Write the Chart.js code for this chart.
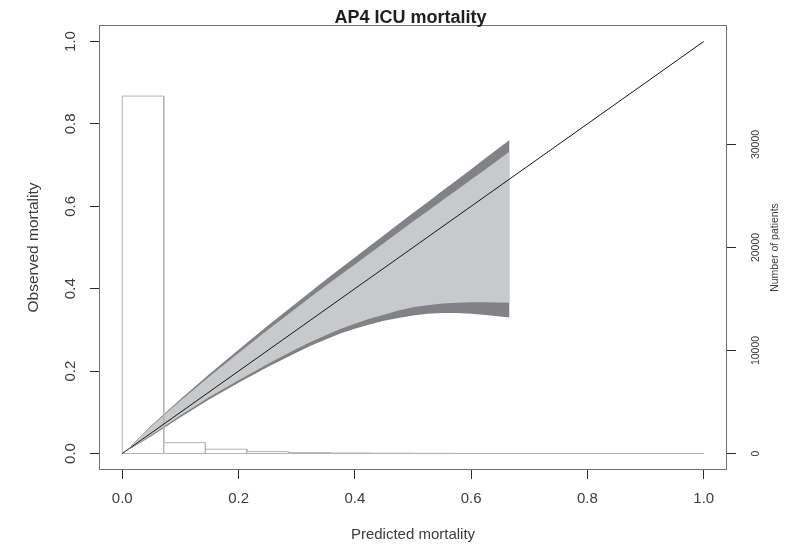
<!DOCTYPE html>
<html>
<head>
  <title>AP4 ICU mortality</title>
  <style>
    html, body { margin: 0; padding: 0; background: #fff; }
    canvas { display: block; }
  </style>
</head>
<body>
  <canvas id="calChart" width="798" height="549"></canvas>

  <script src="https://cdn.jsdelivr.net/npm/chart.js"></script>
  <script>
    const titleText = 'AP4 ICU mortality';

    // calibration belt
    const bandX      = [0.015, 0.05,  0.1,   0.15,  0.2,   0.25,  0.3,   0.325, 0.35,  0.375, 0.4,   0.425, 0.45,  0.475, 0.5,   0.525, 0.55,  0.575, 0.6,   0.625, 0.666];
    const upperOuter = [0.019, 0.068, 0.132, 0.193, 0.252, 0.310, 0.366, 0.394, 0.422, 0.449, 0.476, 0.503, 0.530, 0.557, 0.584, 0.610, 0.637, 0.663, 0.690, 0.717, 0.761];
    const upperInner = [0.018, 0.066, 0.128, 0.187, 0.244, 0.300, 0.354, 0.381, 0.407, 0.433, 0.459, 0.485, 0.511, 0.537, 0.563, 0.588, 0.614, 0.639, 0.665, 0.690, 0.733];
    const lowerInner = [0.013, 0.045, 0.092, 0.137, 0.178, 0.217, 0.254, 0.271, 0.287, 0.302, 0.315, 0.327, 0.337, 0.347, 0.355, 0.360, 0.364, 0.366, 0.367, 0.367, 0.366];
    const lowerOuter = [0.012, 0.042, 0.088, 0.132, 0.172, 0.210, 0.245, 0.262, 0.277, 0.291, 0.303, 0.313, 0.322, 0.329, 0.335, 0.339, 0.341, 0.341, 0.339, 0.336, 0.330];

    // histogram of predicted mortality (number of patients per bin)
    const binEdges  = [0, 0.0714, 0.1429, 0.2143, 0.2857, 0.3571, 0.4286, 0.5, 0.5714, 0.6429, 0.7143, 0.7857, 0.8571, 0.9286, 1.0];
    const binCounts = [34700, 1050, 420, 190, 90, 50, 30, 15, 0, 0, 0, 0, 0, 0];

    const diagX = [0, 1];
    const diagY = [0, 1];

    const xTicks = [0, 0.2, 0.4, 0.6, 0.8, 1.0];
    const yTicks = [0, 0.2, 0.4, 0.6, 0.8, 1.0];
    const patientTicks = [0, 10000, 20000, 30000];

    const font = 'Liberation Sans, Arial, sans-serif';
    const textCol = '#3c3c3c';

    function pts(xs, ys) {
      return xs.map((x, i) => ({ x: x, y: ys[i] }));
    }

    // outline of each histogram rectangle, then back along the base
    const histPts = [];
    for (let i = 0; i < binCounts.length; i++) {
      histPts.push({ x: binEdges[i], y: 0 }, { x: binEdges[i], y: binCounts[i] },
                   { x: binEdges[i + 1], y: binCounts[i] }, { x: binEdges[i + 1], y: 0 });
    }
    histPts.push({ x: binEdges[0], y: 0 });

    const tickGrid = { display: true, drawOnChartArea: false, drawTicks: true, tickLength: 9, color: '#2a2a2a', lineWidth: 1 };

    const boxPlugin = {
      id: 'rbox',
      afterDraw(chart) {
        const { ctx, chartArea: a } = chart;
        ctx.save();
        ctx.strokeStyle = '#707070';
        ctx.lineWidth = 1;
        ctx.strokeRect(a.left + 0.5, a.top + 0.5, a.right - a.left - 1, a.bottom - a.top - 1);

        ctx.fillStyle = '#1e1e1e';
        ctx.font = 'bold 18px ' + font;
        ctx.textAlign = 'center';
        ctx.textBaseline = 'alphabetic';
        ctx.fillText(titleText, (a.left + a.right) / 2 - 2.5, 23);

        // right axis title reads bottom to top
        ctx.fillStyle = textCol;
        ctx.font = '10.5px ' + font;
        ctx.textBaseline = 'middle';
        ctx.translate(775.5, (a.top + a.bottom) / 2);
        ctx.rotate(-Math.PI / 2);
        ctx.fillText('Number of patients', 0, 0);
        ctx.restore();
      }
    };

    const bandLine = { borderColor: 'transparent', borderWidth: 0, pointRadius: 0 };

    new Chart(document.getElementById('calChart').getContext('2d'), {
      type: 'line',
      data: {
        datasets: [
          Object.assign({ data: pts(bandX, upperInner), fill: '+1', backgroundColor: '#c8c9cb' }, bandLine),
          Object.assign({ data: pts(bandX, lowerInner), fill: false }, bandLine),
          Object.assign({ data: pts(bandX, upperOuter), fill: '+1', backgroundColor: '#818285' }, bandLine),
          Object.assign({ data: pts(bandX, lowerOuter), fill: false }, bandLine),
          { data: pts(diagX, diagY), borderColor: '#151515', borderWidth: 1, pointRadius: 0, fill: false },
          { data: histPts, yAxisID: 'y2', borderColor: '#b3b3b3', borderWidth: 1, pointRadius: 0, fill: false }
        ]
      },
      options: {
        responsive: false,
        animation: false,
        devicePixelRatio: 1,
        layout: { padding: { top: 25, left: 0, right: 0, bottom: 0 } },
        plugins: {
          legend: { display: false },
          tooltip: { enabled: false },
          filler: { drawTime: 'beforeDatasetsDraw' }
        },
        elements: { point: { radius: 0 }, line: { tension: 0 } },
        scales: {
          x: {
            type: 'linear', min: -0.04, max: 1.04, offset: false,
            afterBuildTicks: s => { s.ticks = xTicks.map(v => ({ value: v })); },
            afterFit: s => { s.height = 79; },
            grid: tickGrid,
            border: { display: false },
            ticks: { padding: 11, color: textCol, autoSkip: false, maxRotation: 0,
                     font: { size: 15, family: font }, callback: v => v.toFixed(1) },
            title: { display: true, text: 'Predicted mortality', color: textCol,
                     font: { size: 15, family: font }, padding: { top: 0, bottom: 5.5 } }
          },
          y: {
            type: 'linear', position: 'left', min: -0.04, max: 1.04,
            afterBuildTicks: s => { s.ticks = yTicks.map(v => ({ value: v })); },
            afterFit: s => { s.width = 99; },
            grid: tickGrid,
            border: { display: false },
            ticks: { padding: 8.6, crossAlign: 'center', minRotation: 90, maxRotation: 90, autoSkip: false,
                     color: textCol, font: { size: 15, family: font }, callback: v => v.toFixed(1) },
            title: { display: true, text: 'Observed mortality', color: textCol,
                     font: { size: 15.5, family: font }, padding: { top: 24.7, bottom: 0 } }
          },
          y2: {
            type: 'linear', position: 'right', min: -1600, max: 41600,
            afterBuildTicks: s => { s.ticks = patientTicks.map(v => ({ value: v })); },
            afterFit: s => { s.width = 71; },
            grid: tickGrid,
            border: { display: false },
            ticks: { padding: 6, crossAlign: 'center', minRotation: 90, maxRotation: 90, autoSkip: false,
                     color: textCol, font: { size: 10.5, family: font }, callback: v => String(v) }
          }
        }
      },
      plugins: [boxPlugin]
    });
  </script>
</body>
</html>
